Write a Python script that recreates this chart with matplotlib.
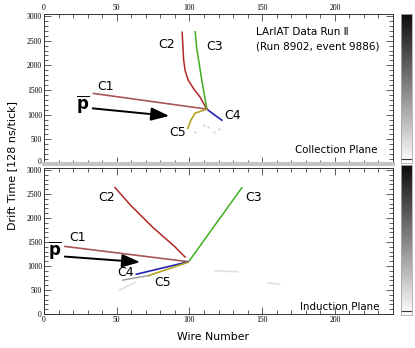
import matplotlib
matplotlib.use("Agg")
import matplotlib.pyplot as plt
import numpy as np
from matplotlib.ticker import MultipleLocator
from matplotlib.transforms import ScaledTranslation

plt.rcParams['font.family'] = ['DejaVu Sans']
plt.rcParams['mathtext.fontset'] = 'dejavusans'

# ---- track data (wire, drift tick) ----
# collection plane
col_c1_w = [34, 112]
col_c1_t = [1430, 1112]
col_c2_w = [95, 95.5, 96, 97, 99, 103, 107, 112]
col_c2_t = [2670, 2400, 2120, 1900, 1710, 1520, 1370, 1112]
col_c3_w = [104, 105, 107, 108.5, 110, 112]
col_c3_t = [2680, 2350, 1980, 1700, 1450, 1112]
col_c4_w = [112, 117, 122.3]
col_c4_t = [1112, 1000, 888]
col_c5_w = [112, 103.8, 101, 99]
col_c5_t = [1112, 1029, 888, 724]

# induction plane
ind_c1_w = [14.4, 99]
ind_c1_t = [1407, 1090]
ind_c2_w = [48.8, 60, 75, 90, 97]
ind_c2_t = [2634, 2250, 1800, 1400, 1186]
ind_c3_w = [100, 136]
ind_c3_t = [1110, 2628]
ind_c4_w = [63.5, 99]
ind_c4_t = [828, 1085]
ind_c5_w = [72, 99]
ind_c5_t = [800, 1076]
ind_c5_tail_w = [54, 72]
ind_c5_tail_t = [705, 800]

# faint noise hits
col_noise_w = [110, 113, 117, 104, 120]
col_noise_t = [800, 760, 640, 650, 700]
ind_noise_segs = [([117.5, 133], [900, 880]), ([154, 162], [645, 620]),
                  ([52, 62.5], [497, 660])]

# labels
col_labels = [('C1', 42.6, 1561), ('C2', 84.5, 2418), ('C3', 117.5, 2378),
              ('C4', 130, 990), ('C5', 92, 643)]
ind_labels = [('C1', 23, 1593), ('C2', 43, 2421), ('C3', 144, 2421),
              ('C4', 56, 869), ('C5', 81.6, 662)]

c_c1 = '#a85656'
c_c2 = '#b02828'
c_c3 = '#3fae1e'
c_c4 = '#2424b4'
c_c5 = '#b4a424'

fig = plt.figure(figsize=(4.15, 3.48), dpi=100)
ax_top = fig.add_axes([44 / 415, 1 - 164 / 348, 349 / 415, 150 / 348])
ax_bot = fig.add_axes([44 / 415, 1 - 314 / 348, 349 / 415, 146 / 348])
cb_top = fig.add_axes([401 / 415, 1 - 163 / 348, 11 / 415, 149 / 348])
cb_bot = fig.add_axes([401 / 415, 1 - 315 / 348, 11 / 415, 150 / 348])


def style_axis(ax, top_labels):
    ax.set_xlim(0, 240)
    ax.set_ylim(0, 3040)
    ax.xaxis.set_major_locator(MultipleLocator(50))
    ax.xaxis.set_minor_locator(MultipleLocator(10))
    ax.yaxis.set_major_locator(MultipleLocator(500))
    ax.yaxis.set_minor_locator(MultipleLocator(100))
    ax.tick_params(which='both', direction='in', top=True, right=True,
                   labelsize=5.5, pad=1.5, width=0.6, color='#444444')
    ax.tick_params(which='major', length=5)
    ax.tick_params(which='minor', length=3)
    ax.tick_params(axis='x', labeltop=top_labels, labelbottom=not top_labels)
    for lab in ax.get_xticklabels() + ax.get_yticklabels():
        lab.set_family('Liberation Serif')
    for s in ax.spines.values():
        s.set_linewidth(0.7)
        s.set_color('#333333')


style_axis(ax_top, True)
style_axis(ax_bot, False)
ax_top.spines['bottom'].set_color('#c4c4c4')
ax_top.spines['bottom'].set_linewidth(3)

# nudge the "0" of the upper panel up so it does not sit on the "3000" below
fig.canvas.draw()
for lab in ax_top.get_yticklabels():
    if lab.get_text() == '0':
        lab.set_transform(lab.get_transform() + ScaledTranslation(0, 2.5 / 72, fig.dpi_scale_trans))

# collection plane tracks
ax_top.plot(col_c1_w, col_c1_t, color=c_c1, lw=1.2)
ax_top.plot(col_c2_w, col_c2_t, color=c_c2, lw=1.1)
ax_top.plot(col_c3_w, col_c3_t, color=c_c3, lw=1.1)
ax_top.plot(col_c4_w, col_c4_t, color=c_c4, lw=1.2)
ax_top.plot(col_c5_w, col_c5_t, color=c_c5, lw=1.2)
ax_top.scatter(col_noise_w, col_noise_t, s=2, color='#c8c8c8', lw=0)

# induction plane tracks
ax_bot.plot(ind_c1_w, ind_c1_t, color=c_c1, lw=1.2)
ax_bot.plot(ind_c2_w, ind_c2_t, color=c_c2, lw=1.1)
ax_bot.plot(ind_c3_w, ind_c3_t, color=c_c3, lw=1.1)
ax_bot.plot(ind_c4_w, ind_c4_t, color=c_c4, lw=1.2)
ax_bot.plot(ind_c5_w, ind_c5_t, color=c_c5, lw=1.2)
ax_bot.plot(ind_c5_tail_w, ind_c5_tail_t, color='#9a9a9a', lw=1.0)
for w, t in ind_noise_segs:
    ax_bot.plot(w, t, color='#e0e0e0', lw=1.2)

for lab, x, y in col_labels:
    ax_top.text(x, y, lab, fontsize=9, ha='center', va='center')
for lab, x, y in ind_labels:
    ax_bot.text(x, y, lab, fontsize=9, ha='center', va='center')

pbar = r'$\overline{\mathbf{p}}$'
ax_top.text(26.8, 1214, pbar, fontsize=12, ha='center', va='center')
ax_bot.text(7.6, 1324, pbar, fontsize=12, ha='center', va='center')
arrow_kw = dict(arrowstyle='-|>,head_length=1.1,head_width=0.4', color='black', lw=1.4)
ax_top.annotate('', xy=(88, 969), xytext=(31.6, 1133), arrowprops=arrow_kw)
ax_bot.annotate('', xy=(68, 1076), xytext=(12.4, 1200), arrowprops=arrow_kw)

ax_top.text(145.7, 2684, 'LArIAT Data Run \u2161', fontsize=7.5, va='center')
ax_top.text(145.7, 2378, '(Run 8902, event 9886)', fontsize=7.5, va='center')
ax_top.text(229.5, 275, 'Collection Plane', fontsize=7.4, ha='right', va='center')
ax_bot.text(231, 145, 'Induction Plane', fontsize=7.4, ha='right', va='center')

fig.text(12 / 415, 1 - 165 / 348, 'Drift Time [128 ns/tick]', rotation=90,
         fontsize=8, ha='center', va='center')
fig.text(213 / 415, 1 - 337 / 348, 'Wire Number', fontsize=7.8,
         ha='center', va='center')

# grayscale colour scales
grad = np.linspace(0, 1, 256).reshape(-1, 1)
for cb in (cb_top, cb_bot):
    cb.imshow(grad, cmap='gray_r', aspect='auto', origin='lower',
              extent=[0, 1, 0, 1], vmin=0, vmax=1.05)
    cb.axhline(0.03, color='#333333', lw=0.8)
    cb.set_xticks([])
    cb.set_yticks([])
    for s in cb.spines.values():
        s.set_color('#aaaaaa')
        s.set_linewidth(0.6)

fig.savefig('out.png', dpi=100, facecolor='white')
